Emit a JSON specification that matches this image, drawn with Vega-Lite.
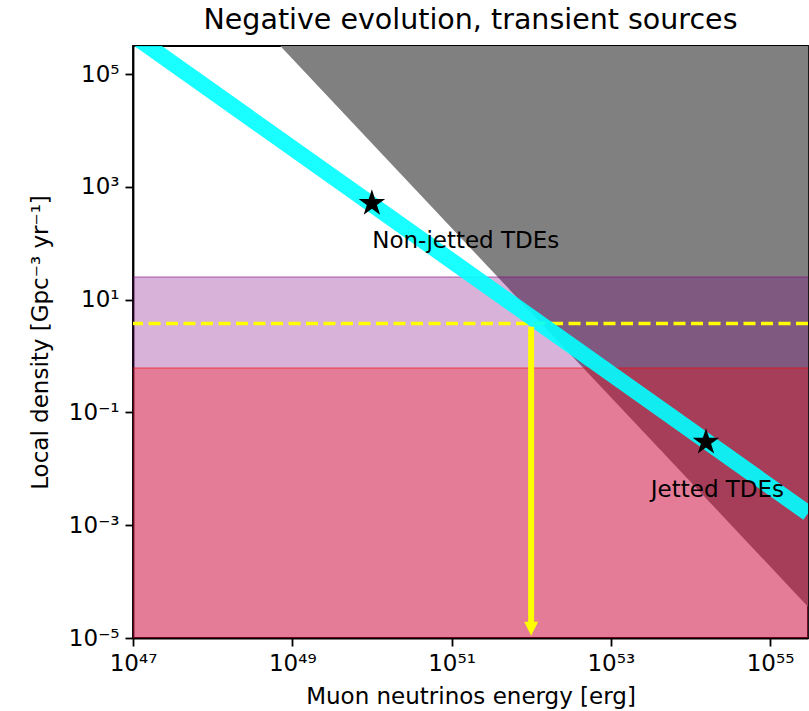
{
  "$schema": "https://vega.github.io/schema/vega-lite/v6.json",
  "width": 675,
  "height": 592,
  "autosize": {"type": "none"},
  "padding": {"left": 133, "top": 46, "right": 1, "bottom": 73},
  "background": "white",
  "title": {"text": "Negative evolution, transient sources"},
  "config": {
    "view": {"stroke": "black", "strokeWidth": 1.8},
    "font": "DejaVu Sans",
    "axis": {
      "domainColor": "black", "domainWidth": 1.8,
      "tickColor": "black", "tickWidth": 1.8, "tickSize": 8,
      "labelFont": "DejaVu Sans", "labelFontSize": 23, "labelColor": "black", "labelPadding": 6,
      "labelFlush": false, "labelOverlap": false,
      "titleFont": "DejaVu Sans", "titleFontSize": 23, "titleFontWeight": "normal", "titleColor": "black",
      "grid": false
    },
    "title": {"font": "DejaVu Sans", "fontSize": 28.5, "fontWeight": "normal", "color": "black", "offset": 12}
  },
  "datasets": {
    "grey": [
      {"E": 7.08e48, "rho": 316000},
      {"E": 3e55, "rho": 3.6e-5}
    ],
    "bands": [
      {"band": "purple", "lo": 1e-5, "hi": 25.4},
      {"band": "red", "lo": 1e-5, "hi": 0.615}
    ],
    "limit": [{"rho": 3.78}],
    "cyan": [
      {"E": 1e47, "rho": 490000},
      {"E": 3e55, "rho": 0.00163}
    ],
    "arrow": [{"E": 1e52, "rho": 3.3, "rho_end": 1.46e-5}],
    "stars": [
      {"name": "Non-jetted TDEs", "E": 1e50, "rho": 512},
      {"name": "Jetted TDEs", "E": 1.57e54, "rho": 0.0298}
    ],
    "labels": [
      {"text": "Non-jetted TDEs", "E": 1.01e50, "rho": 82},
      {"text": "Jetted TDEs", "E": 3.18e53, "rho": 0.00314}
    ]
  },
  "layer": [
    {
      "data": {"name": "grey"},
      "mark": {"type": "area", "color": "#808080", "clip": true},
      "encoding": {
        "x": {
          "field": "E", "type": "quantitative", "title": "Muon neutrinos energy [erg]",
          "scale": {"type": "log", "domain": [1e47, 3e55], "nice": false},
          "axis": {
            "values": [1e47, 1e49, 1e51, 1e53, 1e55],
            "labelExpr": "datum.value < 1e48 ? '10⁴⁷' : datum.value < 1e50 ? '10⁴⁹' : datum.value < 1e52 ? '10⁵¹' : datum.value < 1e54 ? '10⁵³' : '10⁵⁵'",
            "titlePadding": 10
          }
        },
        "y": {
          "field": "rho", "type": "quantitative", "title": "Local density [Gpc⁻³ yr⁻¹]",
          "scale": {"type": "log", "domain": [1e-5, 316000], "nice": false},
          "axis": {
            "values": [1e-5, 1e-3, 1e-1, 10, 1000, 100000],
            "labelExpr": "datum.value < 1e-4 ? '10⁻⁵' : datum.value < 1e-2 ? '10⁻³' : datum.value < 1 ? '10⁻¹' : datum.value < 100 ? '10¹' : datum.value < 1e4 ? '10³' : '10⁵'",
            "titlePadding": 16
          }
        },
        "y2": {"datum": 316000}
      }
    },
    {
      "data": {"name": "bands"},
      "mark": {"type": "rect", "opacity": 0.3},
      "encoding": {
        "x": {"value": 0},
        "x2": {"value": "width"},
        "y": {"field": "hi", "type": "quantitative", "title": "Local density [Gpc⁻³ yr⁻¹]"},
        "y2": {"field": "lo"},
        "color": {"field": "band", "type": "nominal", "scale": {"domain": ["purple", "red"], "range": ["purple", "red"]}, "legend": null}
      }
    },
    {
      "data": {"name": "bands"},
      "mark": {"type": "rule", "opacity": 0.3, "strokeWidth": 2},
      "encoding": {
        "y": {"field": "hi", "type": "quantitative", "title": "Local density [Gpc⁻³ yr⁻¹]"},
        "color": {"field": "band", "type": "nominal", "scale": {"domain": ["purple", "red"], "range": ["purple", "red"]}, "legend": null}
      }
    },
    {
      "data": {"name": "limit"},
      "mark": {"type": "rule", "color": "#ffff00", "strokeWidth": 3.4, "strokeDash": [12, 5.5]},
      "encoding": {
        "y": {"field": "rho", "type": "quantitative", "title": "Local density [Gpc⁻³ yr⁻¹]"}
      }
    },
    {
      "data": {"name": "cyan"},
      "mark": {"type": "line", "color": "#00ffff", "strokeWidth": 16, "opacity": 0.9, "clip": true},
      "encoding": {
        "x": {"field": "E", "type": "quantitative", "title": "Muon neutrinos energy [erg]"},
        "y": {"field": "rho", "type": "quantitative", "title": "Local density [Gpc⁻³ yr⁻¹]"}
      }
    },
    {
      "data": {"name": "arrow"},
      "mark": {"type": "rule", "color": "#ffff00", "strokeWidth": 6},
      "encoding": {
        "x": {"field": "E", "type": "quantitative", "title": "Muon neutrinos energy [erg]"},
        "y": {"field": "rho", "type": "quantitative", "title": "Local density [Gpc⁻³ yr⁻¹]"},
        "y2": {"field": "rho_end"}
      }
    },
    {
      "data": {"name": "arrow"},
      "mark": {"type": "point", "shape": "M-1,-1L1,-1L0,1Z", "filled": true, "color": "#ffff00", "opacity": 1, "size": 196},
      "encoding": {
        "x": {"field": "E", "type": "quantitative", "title": "Muon neutrinos energy [erg]"},
        "y": {"field": "rho_end", "type": "quantitative", "title": "Local density [Gpc⁻³ yr⁻¹]"}
      }
    },
    {
      "data": {"name": "stars"},
      "mark": {"type": "point", "shape": "M0,-1L0.2245,-0.309L0.9511,-0.309L0.3633,0.118L0.5878,0.809L0,0.382L-0.5878,0.809L-0.3633,0.118L-0.9511,-0.309L-0.2245,-0.309Z", "filled": true, "color": "black", "opacity": 1, "size": 780},
      "encoding": {
        "x": {"field": "E", "type": "quantitative", "title": "Muon neutrinos energy [erg]"},
        "y": {"field": "rho", "type": "quantitative", "title": "Local density [Gpc⁻³ yr⁻¹]"}
      }
    },
    {
      "data": {"name": "labels"},
      "mark": {"type": "text", "font": "DejaVu Sans", "fontSize": 23, "align": "left", "baseline": "alphabetic", "color": "black"},
      "encoding": {
        "x": {"field": "E", "type": "quantitative", "title": "Muon neutrinos energy [erg]"},
        "y": {"field": "rho", "type": "quantitative", "title": "Local density [Gpc⁻³ yr⁻¹]"},
        "text": {"field": "text"}
      }
    }
  ]
}
